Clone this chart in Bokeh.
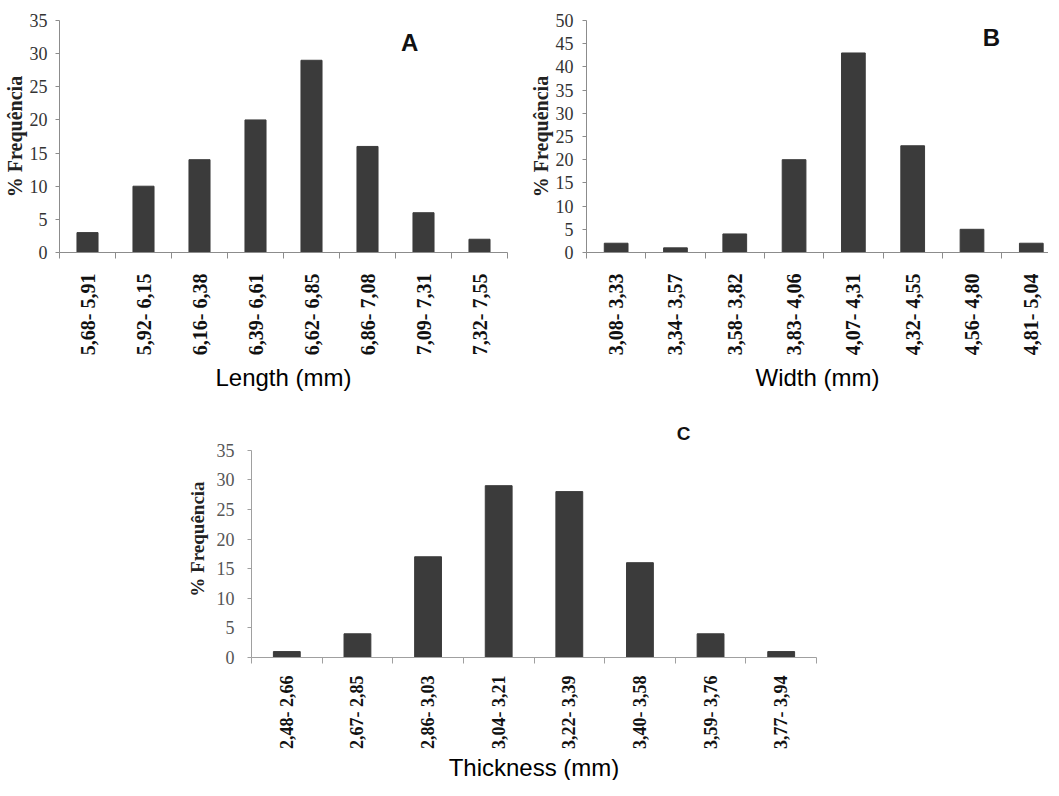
import math
from bokeh.plotting import figure
from bokeh.models import FixedTicker, Range1d, Label, Title, CustomJSTickFormatter
from bokeh.layouts import column, row
from bokeh.embed import file_html
from bokeh.resources import INLINE

# ---------------- data ----------------
length_classes = ["5,68- 5,91", "5,92- 6,15", "6,16- 6,38", "6,39- 6,61",
                  "6,62- 6,85", "6,86- 7,08", "7,09- 7,31", "7,32- 7,55"]
length_freq = [3, 10, 14, 20, 29, 16, 6, 2]

width_classes = ["3,08- 3,33", "3,34- 3,57", "3,58- 3,82", "3,83- 4,06",
                 "4,07- 4,31", "4,32- 4,55", "4,56- 4,80", "4,81- 5,04"]
width_freq = [2, 1, 4, 20, 43, 23, 5, 2]

thick_classes = ["2,48- 2,66", "2,67- 2,85", "2,86- 3,03", "3,04- 3,21",
                 "3,22- 3,39", "3,40- 3,58", "3,59- 3,76", "3,77- 3,94"]
thick_freq = [1, 4, 17, 29, 28, 16, 4, 1]

y_label = "% Frequência"
x_titles = ["Length (mm)", "Width (mm)", "Thickness (mm)"]
letters = ["A", "B", "C"]

BAR = "#3b3b3b"
PAGE = 8  # page margin


def make_panel(classes, freq, xtitle, letter, *, origin, y_max, y_top, x_end,
               width, height, mb, bar_w, letter_px, letter_size,
               title_cx, title_standoff, tick_size, xtick_size, ylabel_size,
               axis_color, ytick_color, x_standoff, ytick_standoff,
               ylabel_standoff):
    n = len(classes)
    xs = list(range(1, n + 1))
    x0, x1 = 0.5, x_end
    y0, y1 = 0, y_top
    p = figure(width=width, height=height,
               x_range=Range1d(x0, x1), y_range=Range1d(y0, y1),
               output_backend="svg", toolbar_location=None,
               min_border_left=mb[0], min_border_right=mb[1],
               min_border_top=mb[2], min_border_bottom=mb[3])
    p.outline_line_color = None
    p.xgrid.visible = False
    p.ygrid.visible = False
    p.background_fill_color = "white"
    p.border_fill_color = "white"

    # frame geometry on the page, used only to place the text annotations
    fl = origin[0] + mb[0]
    ft = origin[1] + mb[2]
    fw = width - mb[0] - mb[1]
    fh = height - mb[2] - mb[3]

    def to_data(px, py):
        return (x0 + (px - fl) / fw * (x1 - x0),
                y1 - (py - ft) / fh * (y1 - y0))

    p.vbar(x=xs, top=freq, width=bar_w, fill_color=BAR, line_color=BAR)

    # y axis
    ya = p.yaxis[0]
    ya.ticker = FixedTicker(ticks=list(range(0, y_max + 1, 5)))
    ya.bounds = (0, y_max)
    ya.axis_line_color = axis_color
    ya.major_tick_line_color = axis_color
    ya.major_tick_out = 4
    ya.major_tick_in = 0
    ya.minor_tick_line_color = None
    ya.major_label_standoff = ytick_standoff
    ya.major_label_text_font = "Liberation Serif"
    ya.major_label_text_font_size = tick_size
    ya.major_label_text_color = ytick_color
    ya.axis_label = y_label
    ya.axis_label_text_font = "Liberation Serif"
    ya.axis_label_text_font_style = "bold"
    ya.axis_label_text_font_size = ylabel_size
    ya.axis_label_text_color = "#222222"
    ya.axis_label_standoff = ylabel_standoff

    # x axis: class labels at centres, small ticks at class boundaries
    xa = p.xaxis[0]
    xa.ticker = FixedTicker(ticks=xs, minor_ticks=[i + 0.5 for i in range(n + 1)])
    xa.formatter = CustomJSTickFormatter(
        args=dict(labels=classes),
        code="const i = Math.round(tick) - 1; return (i >= 0 && i < labels.length) ? labels[i] : '';")
    xa.axis_line_color = axis_color
    xa.major_tick_line_color = None
    xa.major_tick_out = 0
    xa.major_tick_in = 0
    xa.minor_tick_line_color = axis_color
    xa.minor_tick_out = 6
    xa.minor_tick_in = 0
    xa.major_label_orientation = math.pi / 2
    xa.major_label_standoff = x_standoff
    xa.major_label_text_font = "Liberation Serif"
    xa.major_label_text_font_style = "bold"
    xa.major_label_text_font_size = xtick_size
    xa.major_label_text_color = "#111111"

    # x title below the class labels (offset from the frame centre)
    p.add_layout(Title(text=xtitle, align="center",
                       offset=title_cx - (fl + fw / 2), standoff=title_standoff,
                       text_font="Liberation Sans", text_font_size="24px",
                       text_font_style="normal", text_color="#000000"),
                 "below")

    # panel letter
    lx, ly = to_data(*letter_px)
    p.add_layout(Label(x=lx, y=ly, text=letter,
                       text_font="Liberation Sans", text_font_style="bold",
                       text_font_size=letter_size, text_color="#111111",
                       text_align="center", text_baseline="middle"))
    return p


H1 = 400
WA = 512

pA = make_panel(length_classes, length_freq, x_titles[0], letters[0],
                origin=(PAGE, PAGE), y_max=35, y_top=35, x_end=8.5,
                width=WA, height=H1, mb=(54, 5, 15, 148), bar_w=0.376,
                letter_px=(416, 45), letter_size="24px",
                title_cx=302, title_standoff=7,
                tick_size="18px", xtick_size="20px", ylabel_size="20px",
                axis_color="#8c8c8c", ytick_color="#333333",
                x_standoff=15, ytick_standoff=8, ylabel_standoff=1)

pB = make_panel(width_classes, width_freq, x_titles[1], letters[1],
                origin=(PAGE + WA, PAGE), y_max=50, y_top=50, x_end=8.29,
                width=536, height=H1, mb=(74, 0, 20, 148), bar_w=0.4,
                letter_px=(999, 45), letter_size="24px",
                title_cx=895, title_standoff=7,
                tick_size="18px", xtick_size="20px", ylabel_size="20px",
                axis_color="#8c8c8c", ytick_color="#333333",
                x_standoff=15, ytick_standoff=9, ylabel_standoff=1)

pC = make_panel(thick_classes, thick_freq, x_titles[2], letters[2],
                origin=(PAGE, PAGE + H1), y_max=35, y_top=40, x_end=8.5,
                width=830, height=380, mb=(251, 14, 20, 122), bar_w=0.38,
                letter_px=(691, 441), letter_size="19px",
                title_cx=542, title_standoff=0,
                tick_size="18px", xtick_size="18px", ylabel_size="19px",
                axis_color="#a0a0a0", ytick_color="#555555",
                x_standoff=12, ytick_standoff=13, ylabel_standoff=6)

layout = column(row(pA, pB), pC)

open("out.html", "w").write(file_html(layout, INLINE))
